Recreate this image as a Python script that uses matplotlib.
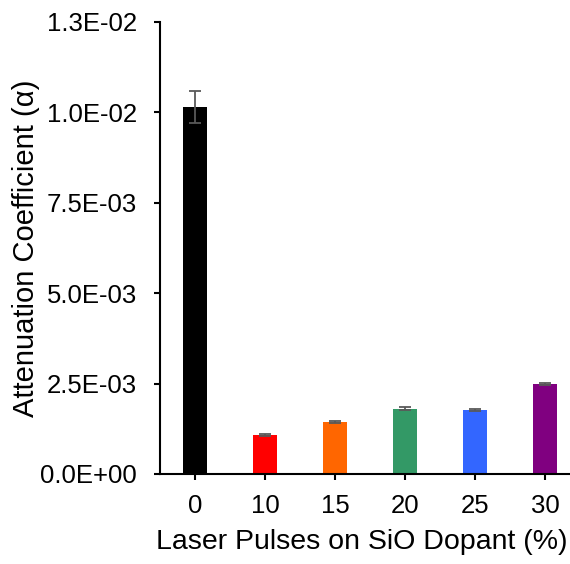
import numpy as np
import matplotlib.pyplot as plt
from matplotlib.ticker import FixedLocator

plt.rcParams['font.family'] = ['Liberation Sans', 'DejaVu Sans']

# dopant levels and measured attenuation
dopant = ['0', '10', '15', '20', '25', '30']
alpha = [0.01015, 0.00107, 0.00143, 0.00181, 0.00178, 0.00249]
alpha_err = [0.00045, 0.00003, 0.00003, 0.00003, 0.00003, 0.00003]
colors = ['#000000', '#ff0000', '#ff6600', '#339966', '#3366ff', '#800080']

yticks = [0.0, 0.0025, 0.005, 0.0075, 0.01, 0.0125]
ytick_labels = ['0.0E+00', '2.5E-03', '5.0E-03', '7.5E-03', '1.0E-02', '1.3E-02']

fig = plt.figure(figsize=(5.70, 5.64), dpi=100)
ax = fig.add_axes([0.2807, 0.1596, 0.737, 0.8014])

x = np.arange(len(dopant))
ax.bar(x, alpha, width=0.35, color=colors,
       yerr=alpha_err, ecolor='#595959', capsize=4,
       error_kw=dict(elinewidth=1.3, capthick=1.3))

ax.set_xlim(-0.5, 5.5)
ax.set_ylim(0, 0.0125)
ax.set_xticks(x)
ax.set_xticklabels(dopant)
ax.yaxis.set_major_locator(FixedLocator(yticks))
ax.set_yticklabels(ytick_labels)

for side in ['top', 'right']:
    ax.spines[side].set_visible(False)
for side in ['left', 'bottom']:
    ax.spines[side].set_linewidth(1.5)
    ax.spines[side].set_color('black')

ax.tick_params(axis='both', direction='out', length=4.5, width=1.5,
               labelsize=18.5, colors='black')
ax.tick_params(axis='x', pad=10)
ax.tick_params(axis='y', pad=12)
ax.set_xlabel('Laser Pulses on SiO Dopant (%)', fontsize=20.5)
ax.set_ylabel('Attenuation Coefficient (α)', fontsize=21)
ax.xaxis.set_label_coords(0.48, -0.122)
ax.yaxis.set_label_coords(-0.286, 0.5)

fig.savefig('out.png', dpi=100)
